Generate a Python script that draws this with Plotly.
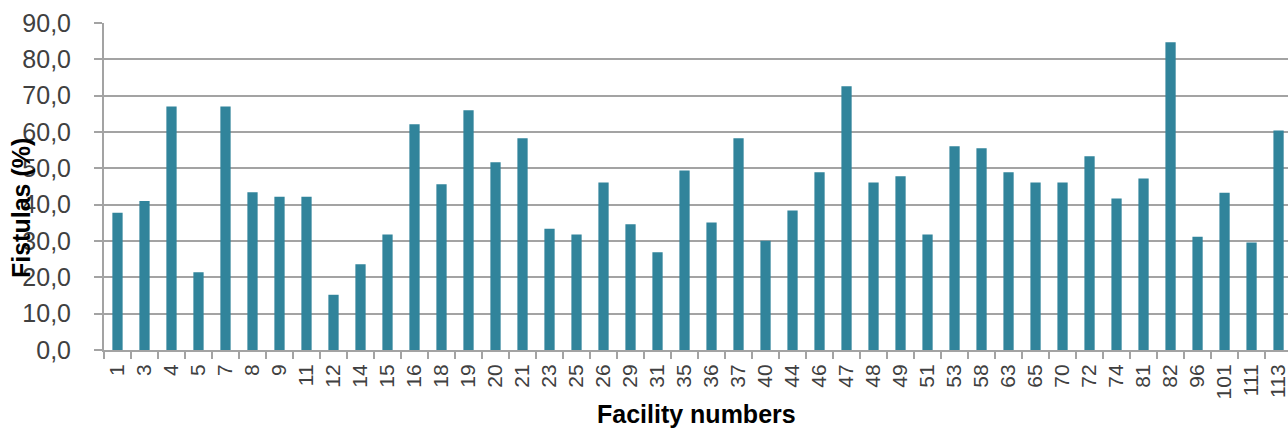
import plotly.graph_objects as go

# Facility identifiers (category axis) and fistula percentages per facility
facilities = ["1", "3", "4", "5", "7", "8", "9", "11", "12", "14", "15", "16",
              "18", "19", "20", "21", "23", "25", "26", "29", "31", "35", "36",
              "37", "40", "44", "46", "47", "48", "49", "51", "53", "58", "63",
              "65", "70", "72", "74", "81", "82", "96", "101", "111", "113"]
fistulas_pct = [37.8, 41.0, 67.0, 21.4, 67.0, 43.4, 42.2, 42.2, 15.2, 23.6, 31.8, 62.1,
                45.6, 66.0, 51.7, 58.3, 33.4, 31.8, 46.1, 34.6, 26.9, 49.4, 35.1,
                58.3, 30.1, 38.4, 48.9, 72.6, 46.1, 47.8, 31.8, 56.1, 55.5, 48.9,
                46.1, 46.1, 53.3, 41.7, 47.2, 84.7, 31.2, 43.3, 29.6, 60.4]
y_ticks = [0, 10, 20, 30, 40, 50, 60, 70, 80, 90]

BAR_COLOR = "#31849B"
GRID = "#a3a3a3"
FONT = "Arial, Liberation Sans, sans-serif"

fig = go.Figure(
    go.Bar(
        x=facilities,
        y=fistulas_pct,
        marker=dict(color=BAR_COLOR, line=dict(width=0)),
        width=0.38,
    )
)

fig.update_layout(
    width=1288,
    height=431,
    margin=dict(l=104, r=0, t=23, b=81),
    paper_bgcolor="white",
    plot_bgcolor="white",
    separators=", ",
    showlegend=False,
    font=dict(family=FONT, color="#404040"),
)

fig.update_xaxes(
    type="category",
    range=[-0.5, len(facilities) - 0.65],
    tickangle=-90,
    tickfont=dict(size=21, color="#404040"),
    ticks="outside",
    tickson="boundaries",
    ticklen=7,
    tickwidth=1.5,
    tickcolor=GRID,
    showline=True,
    linecolor=GRID,
    linewidth=2,
    showgrid=False,
    zeroline=False,
    ticklabelstandoff=4,
    ticklabeloverflow="allow",
)

fig.update_yaxes(
    range=[0, 90],
    tickvals=y_ticks,
    tickformat=".1f",
    tickfont=dict(size=25, color="#404040"),
    ticks="outside",
    ticklen=8,
    tickwidth=2,
    tickcolor=GRID,
    showline=True,
    linecolor=GRID,
    linewidth=2,
    showgrid=True,
    gridcolor=GRID,
    gridwidth=2,
    zeroline=False,
    ticklabelstandoff=18,
)

fig.add_annotation(
    text="<b>Facility numbers</b>",
    xref="paper", yref="paper",
    x=0.5, y=(350 - 414) / 327,
    xanchor="center", yanchor="middle",
    showarrow=False,
    font=dict(size=25, color="#000000", family=FONT),
)
fig.add_annotation(
    text="<b>Fistulas (%)</b>",
    xref="paper", yref="paper",
    x=(21 - 104) / 1184, y=(350 - 208) / 327,
    xanchor="center", yanchor="middle",
    textangle=-90,
    showarrow=False,
    font=dict(size=25, color="#000000", family=FONT),
)

fig.write_html("out.html")
